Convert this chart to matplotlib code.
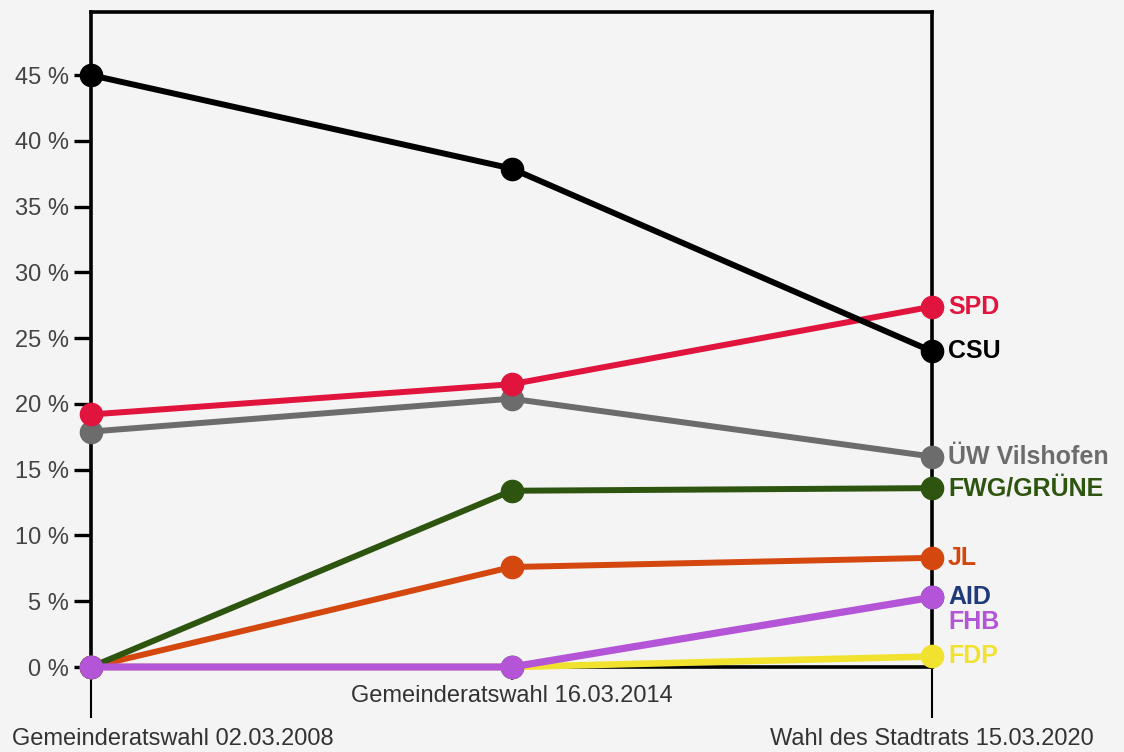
import matplotlib.pyplot as plt
from matplotlib.transforms import ScaledTranslation

plt.rcParams['font.family'] = ['Liberation Sans', 'DejaVu Sans']

elections = ["Gemeinderatswahl 02.03.2008", "Gemeinderatswahl 16.03.2014",
             "Wahl des Stadtrats 15.03.2020"]

# vote shares in percent, one list per party (2008, 2014, 2020)
fdp = [0, 0, 0.8]
aid = [0, 0, 5.3]
jl = [0, 7.6, 8.3]
fwg = [0, 13.4, 13.6]
uew = [17.9, 20.4, 16.0]
spd = [19.2, 21.5, 27.4]
csu = [45.0, 37.9, 24.0]
fhb = [0, 0, 5.3]

# drawing order, bottom to top: name, values, colour, line width, label shift
series = [
    ("FDP", fdp, "#f2e230", 4.8, 0),
    ("AID", aid, "#1f3a7a", 3.5, 0),
    ("JL", jl, "#d4470f", 4.3, 0),
    ("FWG/GRÜNE", fwg, "#2e5510", 4.3, 0),
    ("ÜW Vilshofen", uew, "#6c6c6c", 4.3, 0),
    ("SPD", spd, "#e0143c", 4.3, 0),
    ("CSU", csu, "#000000", 4.3, 0),
    ("FHB", fhb, "#b455d8", 5.2, -18),
]

bg = "#f4f4f4"
fig = plt.figure(figsize=(11.24, 7.52), dpi=100, facecolor=bg)
ax = fig.add_axes([91 / 1124, 1 - 667 / 752, (932 - 91) / 1124, (667 - 12) / 752])
ax.set_facecolor(bg)

x = list(range(len(elections)))
for name, vals, color, lw, dy in series:
    ax.plot(x, vals, color=color, lw=lw, marker="o", ms=16, clip_on=False,
            zorder=3)
    ax.annotate(name, xy=(x[-1], vals[-1]), xytext=(11.5, dy),
                textcoords="offset points", va="center", ha="left",
                color=color, fontsize=18, fontweight="bold",
                annotation_clip=False)

ax.set_xlim(0, 2)
ax.set_ylim(0, 49.8)

for s in ax.spines.values():
    s.set_linewidth(2.6)

ax.set_yticks(range(0, 50, 5), labels=[f"{v} %" for v in range(0, 50, 5)])
ax.tick_params(axis="y", length=12, width=2.4, labelsize=17,
               labelcolor="#444444", pad=4)

ax.set_xticks([0, 2], labels=[elections[0], elections[2]])
ax.set_xticks([1], labels=[elections[1]], minor=True)
ax.tick_params(axis="x", which="major", length=37, width=1.5, pad=7,
               labelsize=17, labelcolor="#333333")
ax.tick_params(axis="x", which="minor", length=9, width=1.5, pad=4,
               labelsize=17, labelcolor="#333333")

first = ax.get_xticklabels()[0]
first.set_ha("left")
first.set_transform(first.get_transform()
                    + ScaledTranslation(-0.79, 0, fig.dpi_scale_trans))

fig.savefig("out.png", dpi=100, facecolor=bg)
